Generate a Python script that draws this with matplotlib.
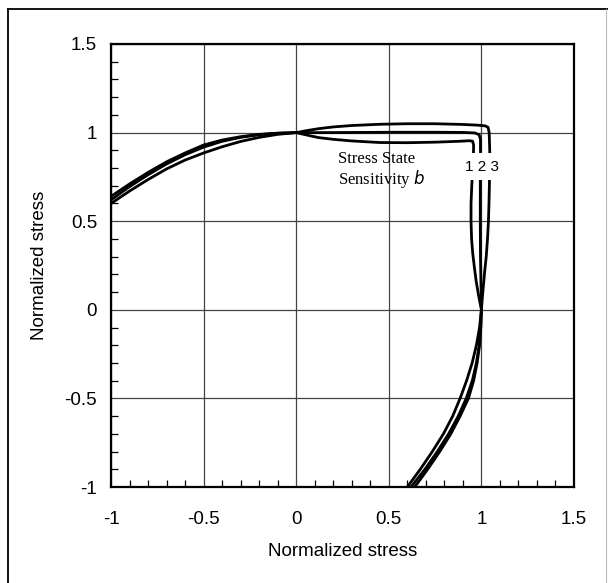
import matplotlib
matplotlib.use("Agg")
import matplotlib.pyplot as plt
from matplotlib.lines import Line2D
from matplotlib.ticker import MultipleLocator

# ---- data ----
# Curve 1 (b = 1)
c1_x = [-1.00, -0.90, -0.80, -0.70, -0.60, -0.50, -0.40, -0.30, -0.20, -0.10, 0.00,
        0.05, 0.12, 0.20, 0.30, 0.45, 0.60, 0.75, 0.88, 0.935, 0.952, 0.958,
        0.957, 0.953, 0.948, 0.944, 0.944, 0.947, 0.953, 0.962, 0.972, 0.985, 1.000,
        0.997, 0.990, 0.977, 0.958, 0.930, 0.885, 0.835, 0.775, 0.710, 0.640]
c1_y = [0.640, 0.710, 0.775, 0.835, 0.885, 0.930, 0.958, 0.977, 0.990, 0.997, 1.000,
        0.988, 0.972, 0.962, 0.953, 0.944, 0.943, 0.946, 0.951, 0.954, 0.952, 0.930,
        0.880, 0.800, 0.700, 0.600, 0.500, 0.400, 0.320, 0.240, 0.160, 0.080, 0.000,
        -0.100, -0.200, -0.300, -0.400, -0.500, -0.600, -0.700, -0.800, -0.900, -1.000]

# Curve 2 (b = 2)
c2_x = [-1.00, -0.90, -0.80, -0.70, -0.60, -0.50, -0.40, -0.30, -0.20, -0.10, 0.00,
        0.15, 0.35, 0.55, 0.75, 0.90, 0.965, 0.988, 0.995,
        0.995, 0.994, 0.994, 0.995, 0.997, 0.999, 1.000,
        0.996, 0.988, 0.973, 0.951, 0.918, 0.875, 0.823, 0.762, 0.695, 0.620]
c2_y = [0.620, 0.695, 0.762, 0.823, 0.875, 0.918, 0.951, 0.973, 0.988, 0.996, 1.000,
        1.000, 1.001, 1.002, 1.002, 1.001, 0.998, 0.988, 0.960,
        0.850, 0.700, 0.500, 0.300, 0.180, 0.080, 0.000,
        -0.100, -0.200, -0.300, -0.400, -0.500, -0.600, -0.700, -0.800, -0.900, -1.000]

# Curve 3 (b = 3)
c3_x = [-1.00, -0.90, -0.80, -0.70, -0.60, -0.50, -0.40, -0.30, -0.20, -0.10, 0.00,
        0.05, 0.12, 0.20, 0.30, 0.45, 0.60, 0.75, 0.90, 0.98, 1.020, 1.036, 1.042,
        1.045, 1.044, 1.041, 1.038, 1.033, 1.026, 1.018, 1.012, 1.006, 1.000,
        0.990, 0.973, 0.950, 0.920, 0.885, 0.845, 0.795, 0.735, 0.670, 0.600]
c3_y = [0.600, 0.670, 0.735, 0.795, 0.845, 0.885, 0.920, 0.950, 0.973, 0.990, 1.000,
        1.010, 1.022, 1.032, 1.040, 1.047, 1.050, 1.050, 1.046, 1.042, 1.038, 1.030, 1.000,
        0.900, 0.750, 0.600, 0.500, 0.400, 0.300, 0.220, 0.150, 0.080, 0.000,
        -0.100, -0.200, -0.300, -0.400, -0.500, -0.600, -0.700, -0.800, -0.900, -1.000]

curve_labels = ["1", "2", "3"]
x_ticks = [-1, -0.5, 0, 0.5, 1, 1.5]
y_ticks = [-1, -0.5, 0, 0.5, 1, 1.5]
tick_text = ["-1", "-0.5", "0", "0.5", "1", "1.5"]
x_label = "Normalized stress"
y_label = "Normalized stress"
annot_text = "Stress State\nSensitivity $\\mathit{b}$"

SANS = ["Liberation Sans", "DejaVu Sans"]
SERIF = ["Liberation Serif", "DejaVu Serif"]

# ---- figure ----
W, H = 608, 583
fig = plt.figure(figsize=(W / 100, H / 100), dpi=100)
fig.patch.set_facecolor("white")

ax = fig.add_axes([111 / W, 1 - 487 / H, (574 - 111) / W, (487 - 44) / H])
ax.set_xlim(-1, 1.5)
ax.set_ylim(-1, 1.5)

for xs, ys in [(c1_x, c1_y), (c2_x, c2_y), (c3_x, c3_y)]:
    ax.plot(xs, ys, color="black", lw=2.0, solid_joinstyle="round",
            solid_capstyle="round", zorder=3)

ax.set_xticks(x_ticks)
ax.set_yticks(y_ticks)
ax.set_xticklabels(tick_text)
ax.set_yticklabels(tick_text)
ax.xaxis.set_minor_locator(MultipleLocator(0.1))
ax.yaxis.set_minor_locator(MultipleLocator(0.1))
ax.tick_params(which="major", length=0, labelsize=13.5)
ax.tick_params(axis="y", which="major", pad=10)
ax.tick_params(axis="x", which="major", pad=17)
ax.tick_params(which="minor", direction="in", length=5, width=0.9,
               color="black", top=False, right=False)
for lab in ax.get_xticklabels() + ax.get_yticklabels():
    lab.set_family(SANS)

ax.grid(True, which="major", color="#444444", lw=0.9, zorder=1)
for s in ax.spines.values():
    s.set_linewidth(1.6)
    s.set_color("black")

ax.set_xlabel(x_label, fontsize=13.5, family=SANS, labelpad=11)
ax.set_ylabel(y_label, fontsize=13.5, family=SANS, labelpad=12)

# curve number labels (interrupt the vertical lines)
ax.text(1.005, 0.808, " ".join(curve_labels),
        ha="center", va="center", fontsize=11, family=SANS, zorder=5,
        bbox=dict(facecolor="white", edgecolor="none", pad=4.5))
ax.text(0.225, 0.785, annot_text, ha="left", va="center", fontsize=12,
        family=SERIF, linespacing=1.1, zorder=5)

# outer frame of the figure
fig.add_artist(Line2D([8 / W, 8 / W], [0, 1 - 9 / H], color="black", lw=1.3,
                      transform=fig.transFigure))
fig.add_artist(Line2D([8 / W, 1.0], [1 - 9 / H, 1 - 9 / H], color="black",
                      lw=1.3, transform=fig.transFigure))
fig.add_artist(Line2D([606 / W, 606 / W], [0, 1 - 9 / H], color="#bbbbbb",
                      lw=0.8, transform=fig.transFigure))

fig.savefig("out.png", dpi=100, facecolor="white")
